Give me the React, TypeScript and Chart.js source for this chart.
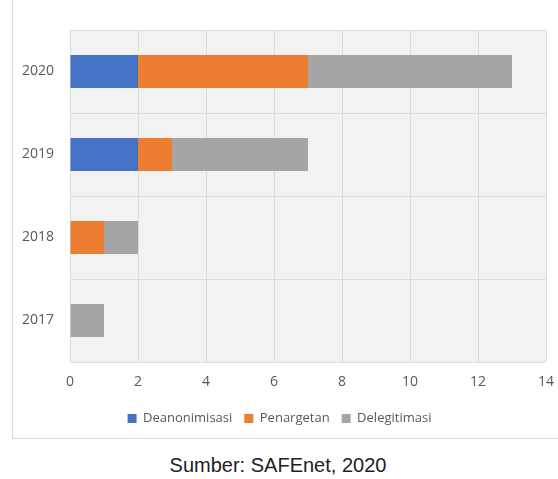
import React, { useEffect, useRef } from "react";
import { Chart, registerables } from "chart.js";

Chart.register(...registerables);

const categories = ["2020", "2019", "2018", "2017"];
const deanonimisasi = [2, 2, 0, 0];
const penargetan = [5, 1, 1, 0];
const delegitimasi = [6, 4, 1, 1];
const xTicksMax = 14;
const xTicksStep = 2;
const caption = "Sumber: SAFEnet, 2020";

const plotBg = {
  id: "plotBg",
  beforeDraw(chart: any) {
    const { ctx, chartArea } = chart;
    if (!chartArea) return;
    ctx.save();
    ctx.fillStyle = "#f2f2f2";
    ctx.fillRect(chartArea.left, chartArea.top, chartArea.right - chartArea.left, chartArea.bottom - chartArea.top);
    ctx.restore();
  },
};

export default function App() {
  const ref = useRef<HTMLCanvasElement | null>(null);
  useEffect(() => {
    if (!ref.current) return;
    const tickFont = { family: "'Open Sans', sans-serif", size: 14 };
    const chart = new Chart(ref.current, {
      type: "bar",
      data: {
        labels: categories,
        datasets: [
          { label: "Deanonimisasi", data: deanonimisasi, backgroundColor: "#4472C4" },
          { label: "Penargetan", data: penargetan, backgroundColor: "#ED7D31" },
          { label: "Delegitimasi", data: delegitimasi, backgroundColor: "#A5A5A5" },
        ],
      },
      options: {
        indexAxis: "y",
        animation: false,
        responsive: true,
        maintainAspectRatio: false,
        layout: { padding: { top: 30, right: 12, left: 0, bottom: 3 } },
        datasets: { bar: { categoryPercentage: 0.8, barPercentage: 0.5 } },
        scales: {
          x: {
            stacked: true,
            min: 0,
            max: xTicksMax,
            ticks: { stepSize: xTicksStep, color: "#595959", font: tickFont, padding: 12 },
            grid: { color: "#dcdcdc", drawTicks: false },
            border: { display: false },
            afterFit(scale: any) {
              scale.height = 38;
              scale.paddingRight = 0;
              scale.paddingLeft = 0;
            },
          },
          y: {
            stacked: true,
            ticks: { color: "#595959", font: tickFont, padding: 16 },
            grid: { color: "#dcdcdc", drawTicks: false },
            border: { display: false },
            afterFit(scale: any) { scale.width = 57; },
          },
        },
        plugins: {
          legend: {
            position: "bottom",
            labels: {
              boxWidth: 9,
              boxHeight: 9,
              padding: 12,
              color: "#595959",
              font: { family: "'Open Sans', sans-serif", size: 13 },
            },
          },
          tooltip: { enabled: false },
        },
      } as any,
      plugins: [plotBg],
    });
    return () => chart.destroy();
  }, []);

  return (
    <div style={{ position: "absolute", left: 0, top: 0, width: 558, height: 479, overflow: "hidden", background: "#fff" }}>
      <div style={{ position: "absolute", left: 12, top: -20, width: 600, height: 459, border: "1px solid #d9d9d9", boxSizing: "border-box" }} />
      <div style={{ position: "absolute", left: 13, top: 0, width: 545, height: 438 }}>
        <canvas ref={ref} />
      </div>
      <div style={{ position: "absolute", left: 0, top: 454, width: 556, textAlign: "center", fontFamily: "'Liberation Sans', Arial, sans-serif", fontSize: 20, color: "#222" }}>
        {caption}
      </div>
    </div>
  );
}
